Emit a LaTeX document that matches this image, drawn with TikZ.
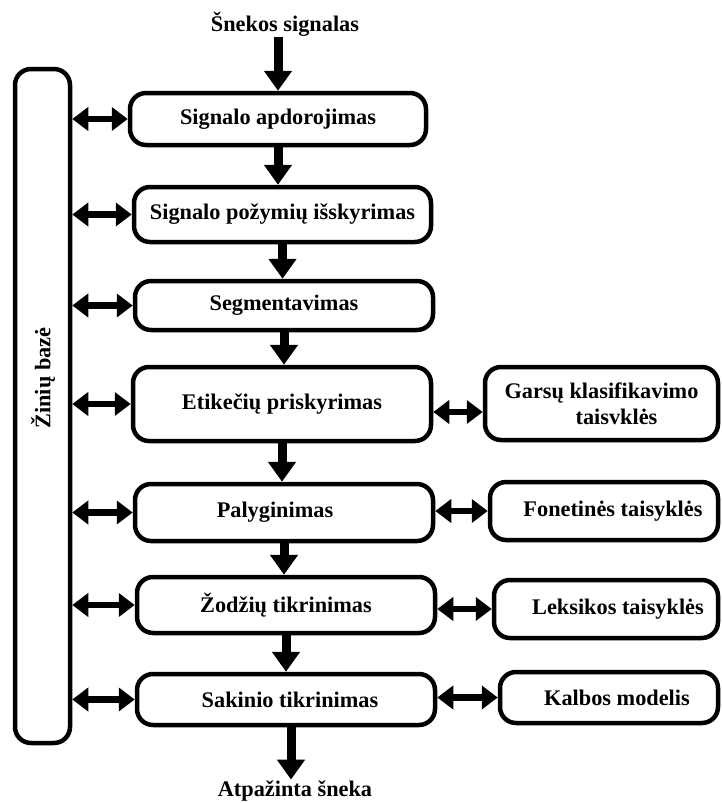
\documentclass[tikz,border=0pt]{standalone}
\usepackage{fontspec}
\setmainfont{Liberation Serif}
\usetikzlibrary{arrows.meta}
\begin{document}
\begin{tikzpicture}[x=1pt,y=-1pt,
  font=\fontsize{22.3}{26}\selectfont\bfseries,
  stage/.style={draw=black,line width=4.5pt,rounded corners=16pt,inner sep=0pt,align=center},
  caption/.style={inner sep=1pt},
  flow/.style={line width=9pt,-{Triangle[width=27pt,length=20pt]}},
  link/.style={line width=6.5pt,{Triangle[width=23pt,length=16pt]}-{Triangle[width=23pt,length=16pt]}}]
\useasboundingbox (0,0) rectangle (721,803);

% knowledge base column
\node[stage,minimum width=55pt,minimum height=674pt] (kb) at (42.5,406) {};
\node[rotate=90] (kbt) at (43,378) {Žinių bazė};

% main processing chain
\node[caption] (src) at (285,24) {Šnekos signalas};
\node[stage,minimum width=296pt,minimum height=52pt] (b1) at (278,119) {Signalo apdorojimas};
\node[stage,minimum width=297pt,minimum height=55pt] (b2) at (282.5,214.5) {Signalo požymių išskyrimas};
\node[stage,minimum width=298pt,minimum height=49pt] (b3) at (284,305.5) {Segmentavimas};
\node[stage,minimum width=298pt,minimum height=74pt] (b4) at (282,404) {Etikečių priskyrimas};
\node[stage,minimum width=298pt,minimum height=57pt] (b5) at (284,512.5) {Palyginimas\hspace*{18pt}};
\node[stage,minimum width=298pt,minimum height=56pt] (b6) at (286,605) {Žodžių tikrinimas};
\node[stage,minimum width=298pt,minimum height=51pt] (b7) at (286,699.5) {\hspace*{8pt}Sakinio tikrinimas};
\node[caption] (out) at (295,791) {Atpažinta šneka};

% rule sets on the right
\node[stage,minimum width=233pt,minimum height=73pt] (r4) at (601.5,403.5)
  {Garsų klasifikavimo\\\hspace*{30pt}taisvklės};
\node[stage,minimum width=228pt,minimum height=58pt] (r5) at (604,511) {\hspace*{18pt}Fonetinės taisyklės};
\node[stage,minimum width=224pt,minimum height=58pt] (r6) at (606,609) {\hspace*{24pt}Leksikos taisyklės};
\node[stage,minimum width=218pt,minimum height=51pt] (r7) at (609,697.5) {\hspace*{16pt}Kalbos modelis};

% downward flow
\draw[flow] (src.south -| b1.north) -- (b1.north);
\draw[flow] (b1.south) -- (b1.south |- b2.north);
\draw[flow] (b2.south) -- (b2.south |- b3.north);
\draw[flow] (b3.south) -- (b3.south |- b4.north);
\draw[flow] (b4.south) -- (b4.south |- b5.north);
\draw[flow] (b5.south) -- (b5.south |- b6.north);
\draw[flow] (b6.south) -- (b6.south |- b7.north);
\draw[flow] ([xshift=5pt]b7.south) -- ([xshift=5pt]b7.south |- out.north);

% exchanges with the knowledge base
\foreach \b in {b1,b2,b3,b4,b5,b6,b7}
  \draw[link] (kb.east |- \b.west) -- (\b.west);

% exchanges with the rule sets
\draw[link] ([yshift=-8pt]b4.east) -- ([yshift=-8pt]b4.east -| r4.west);
\draw[link] (b5.east |- r5.west) -- (r5.west);
\draw[link] (b6.east |- r6.west) -- (r6.west);
\draw[link] (b7.east |- r7.west) -- (r7.west);
\end{tikzpicture}
\end{document}
